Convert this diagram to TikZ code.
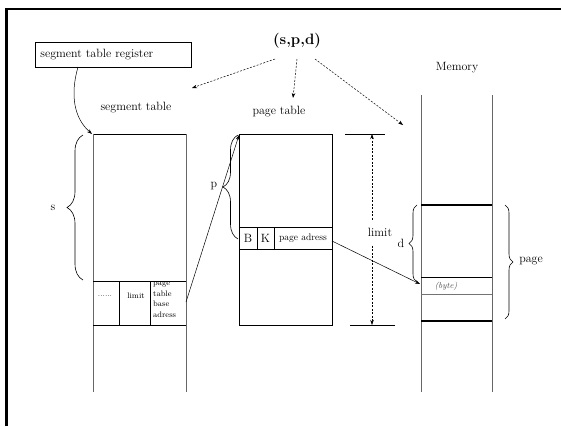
\documentclass[tikz,border=0pt]{standalone}
\usetikzlibrary{arrows.meta,decorations.pathreplacing}
\begin{document}
\begin{tikzpicture}[x=1pt,y=-1pt,
  lbl/.style={font=\fontsize{12}{14}\selectfont, inner sep=0pt},
  small/.style={font=\fontsize{8}{10.5}\selectfont, inner sep=0pt, align=left},
  hline/.style={line width=0.9pt},
  vline/.style={line width=1pt, draw=black!60},
  arr/.style={-{Stealth[length=5pt,width=3.5pt]}, line width=0.5pt},
  fdash/.style={dash pattern=on 2pt off 1.5pt},
  darr/.style={arr, fdash},
  brc/.style={decorate, decoration={brace, amplitude=#1}, line width=0.6pt},
]
\useasboundingbox (0,0) rectangle (561,426);
% frame
\draw[line width=2.8pt, miter limit=10] (6.7,426) -- (6.7,9) -- (561,9);

% register
\node[draw, line width=0.8pt, anchor=north west, minimum height=25pt, text width=146pt,
      inner xsep=5pt, inner ysep=0pt, align=left, font=\fontsize{12}{14}\selectfont] (reg) at (35,42) {segment table register};

% address
\node[font=\bfseries\fontsize{15}{18}\selectfont, inner sep=0pt] (spd) at (297,41) {(s,p,d)};
\coordinate (a1) at (275,59); \coordinate (b1) at (192,88);
\coordinate (a2) at (297,59); \coordinate (b2) at (293,98);
\coordinate (a3) at (315,59); \coordinate (b3) at (403,125);
\draw[darr] (a1) -- (b1);
\draw[darr] (a2) -- (b2);
\draw[darr] (a3) -- (b3);

% titles
\node[lbl] (stl) at (136,108) {segment table};
\node[lbl] (ptl) at (279,112) {page table};
\node[lbl] (meml) at (457,68) {Memory};

% segment table
\draw[hline] (93,134) -- (186,134);
\draw[vline] (93,134) -- (93,392);
\draw[vline] (186,134) -- (186,392);
\draw[hline] (93,281) -- (186,281);
\draw[hline] (93,325) -- (186,325);
\draw[hline] (119,281) -- (119,325);
\draw[hline] (150,281) -- (150,325);
\node[small] (dots) at (105,296) {......};
\node[small] (slim) at (136,296) {limit};
\node[small, anchor=north west] (ptba) at (153,282) {page\\table\\base\\adress};
\coordinate (stTop) at (92,134);
\coordinate (stCell) at (186,302);

% register -> segment table
\coordinate (regOut) at (78,67);
\draw[arr] (regOut) .. controls (70,95) and (74,118) .. (stTop);

% brace s
\draw[brc=16pt] (83,280) -- (83,135);
\node[lbl] (sl) at (53,208) {s};

% page table
\draw[hline] (239,134) rectangle (332,325);
\draw[hline] (239,227) -- (332,227);
\draw[hline] (239,249) -- (332,249);
\draw[hline] (257,227) -- (257,249);
\draw[hline] (274,227) -- (274,249);
\node[lbl] (bl) at (248,238) {B};
\node[lbl] (kl) at (265.5,238) {K};
\node[font=\fontsize{9.5}{11}\selectfont, inner sep=0pt] (pad) at (303,238) {page adress};
\coordinate (ptTop) at (239,135);
\coordinate (padOut) at (332,241);
\draw[arr] (stCell) -- (ptTop);

% brace p
\draw[brc=15pt] (238,239) -- (238,135);
\node[lbl] (pl) at (214,186) {p};

% limit
\draw[hline] (345,134) -- (385,134);
\draw[hline] (350,325) -- (395,325);
\coordinate (lt) at (372,134); \coordinate (lb) at (372,325);
\draw[fdash, line width=0.5pt, {Stealth[length=5pt,width=3.5pt]}-{Stealth[length=5pt,width=3.5pt]}] (lt) -- (lb);
\node[lbl, fill=white, inner xsep=1pt, inner ysep=8pt] (liml) at (380,232) {limit};

% memory
\draw[vline] (421,95) -- (421,392);
\draw[vline] (492,95) -- (492,392);
\draw[line width=1.2pt] (421,205) -- (492,205);
\draw[line width=1.2pt] (421,321) -- (492,321);
\draw[line width=0.8pt] (421,277) -- (492,277);
\draw[line width=0.8pt, black!55] (421,294) -- (492,294);
\node[font=\itshape\fontsize{8.5}{10}\selectfont, text=black!70, inner sep=0pt] (byte) at (446,286) {(byte)};
\coordinate (memIn) at (420,284);
\draw[arr] (padOut) -- (memIn);

% brace d
\draw[brc=8pt] (417,282) -- (417,205);
\node[lbl] (dl) at (401,243) {d};

% brace page
\draw[brc=8pt] (505,205) -- (505,319);
\node[lbl] (pgl) at (531,261) {page};
\end{tikzpicture}
\end{document}
